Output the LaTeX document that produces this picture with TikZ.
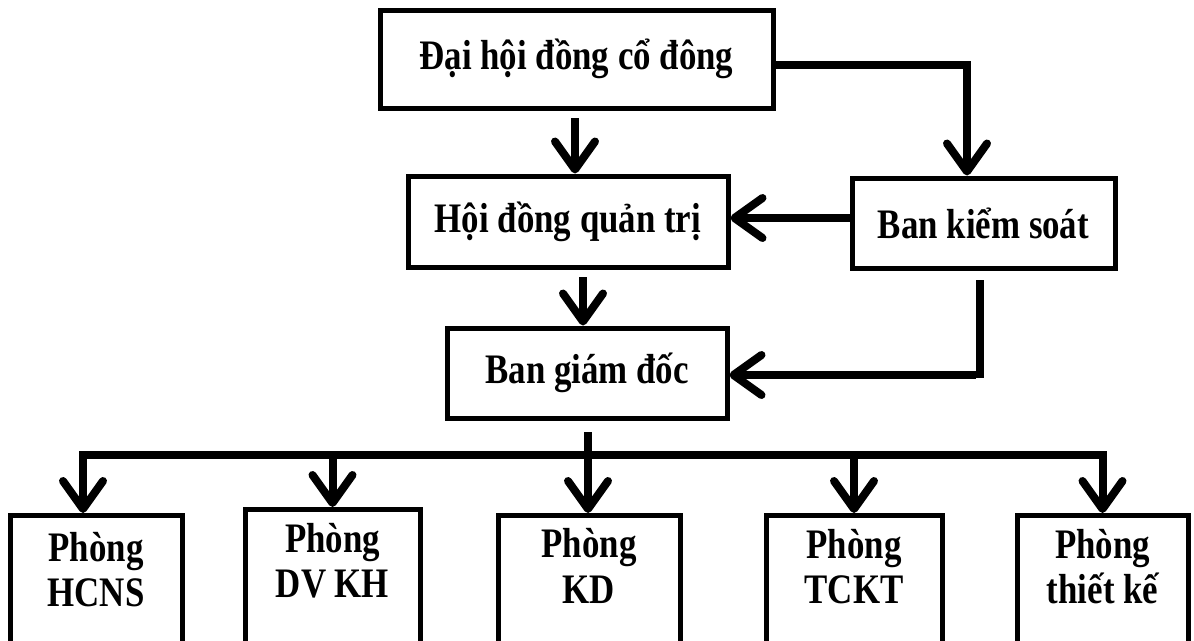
\documentclass[tikz,border=0pt]{standalone}
\usepackage{fontspec}
\setmainfont{Liberation Serif}[FakeStretch=0.83]
\usetikzlibrary{arrows.meta}
\tikzset{
  box/.style={draw=black, line width=5pt, rectangle, fill=white, inner sep=0pt,
    font=\bfseries\fontsize{42}{48}\selectfont},
  lbl/.style={inner sep=0pt, anchor=base, font=\bfseries\fontsize{42}{48}\selectfont},
  conn/.style={draw=black, line width=8pt},
  arr/.style={conn, -{Straight Barb[length=28pt,width=40pt,round]}},
}
\begin{document}
\begin{tikzpicture}[x=1pt,y=-1pt]
\path[use as bounding box, clip] (0,0) rectangle (1194,640);
\fill[white] (0,0) rectangle (1194,640);
% upper boxes
\node[box, minimum width=393pt, minimum height=98pt] (dh) at (576.5,59) {Đại hội đồng cổ đông};
\node[box, minimum width=320pt, minimum height=91pt] (hdqt) at (568,221.5) {Hội đồng quản trị};
\node[box, minimum width=263pt, minimum height=90pt] (bks) at (983.5,223) {Ban kiểm soát};
\node[box, minimum width=280pt, minimum height=90pt] (bgd) at (587,373) {Ban giám đốc};
% lower boxes
\node[box, anchor=north, minimum width=172pt, minimum height=190pt] (hcns) at (96,513) {};
\node[box, anchor=north, minimum width=175pt, minimum height=190pt] (dvkh) at (332.5,507) {};
\node[box, anchor=north, minimum width=182pt, minimum height=190pt] (kd) at (589,513) {};
\node[box, anchor=north, minimum width=176pt, minimum height=190pt] (tckt) at (854,513) {};
\node[box, anchor=north, minimum width=171pt, minimum height=190pt] (tk) at (1102.5,513) {};
\node[lbl] (hcns1) at (96,561) {Phòng};
\node[lbl] (hcns2) at (96,606) {HCNS};
\node[lbl] (dvkh1) at (332.5,552) {Phòng};
\node[lbl] (dvkh2) at (332.5,597) {DV KH};
\node[lbl] (kd1) at (589,557) {Phòng};
\node[lbl] (kd2) at (589,603) {KD};
\node[lbl] (tckt1) at (854,558) {Phòng};
\node[lbl] (tckt2) at (854,603) {TCKT};
\node[lbl] (tk1) at (1102.5,558) {Phòng};
\node[lbl] (tk2) at (1102.5,603) {thiết kế};
% upper connectors
\coordinate (a1) at (575,118);
\draw[arr] (a1) -- (a1 |- hdqt.north);
\draw[arr] ([yshift=-6pt]dh.east) -| ([xshift=-16.5pt]bks.north);
\draw[arr] ([yshift=5pt]bks.west) -- ([yshift=5pt]bks.west -| hdqt.east);
\coordinate (a2) at (583,277);
\draw[arr] (a2) -- (a2 |- bgd.north);
\coordinate (s1) at (980,280);
\coordinate (s2) at (980,378);
\draw[conn] (s1) -- (s2);
\coordinate (h1) at (976,375);
\draw[arr] (h1) -- (h1 -| bgd.east);
% lower connectors
\coordinate (c0) at (588,432);
\coordinate (bus) at (588,455);
\draw[arr] (c0) -- (c0 |- kd.north);
\draw[arr] (bus) -| ([xshift=-13pt]hcns.north);
\draw[arr] (bus) -| (tk.north);
\draw[arr] (bus -| dvkh.north) -- (dvkh.north);
\draw[arr] (bus -| tckt.north) -- (tckt.north);
\end{tikzpicture}
\end{document}
